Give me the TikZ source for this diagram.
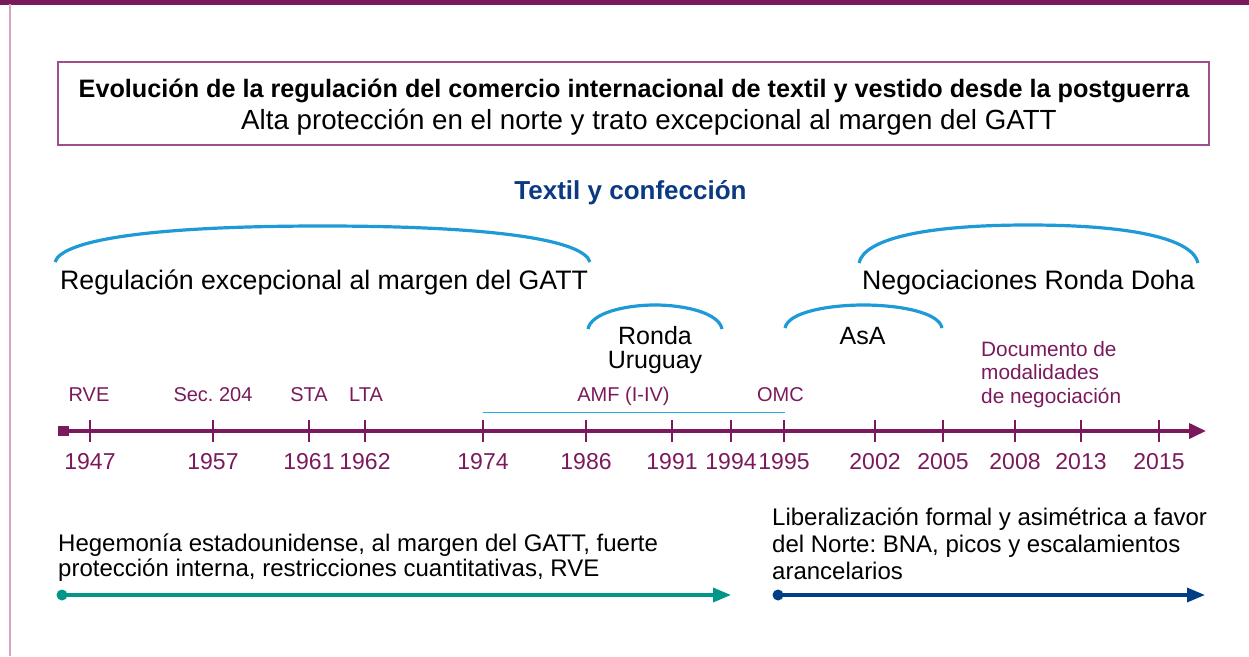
\documentclass[tikz,border=0pt]{standalone}
\usepackage{fontspec}
\setmainfont{Liberation Sans}
\usetikzlibrary{arrows.meta}
\definecolor{plum}{HTML}{7A1A5C}
\definecolor{boxline}{HTML}{9C4F8B}
\definecolor{edgepink}{HTML}{D7A3C5}
\definecolor{sky}{HTML}{1E9AD6}
\definecolor{skyl}{HTML}{2AAAE2}
\definecolor{navy}{HTML}{0B3A82}
\definecolor{tealc}{HTML}{00968A}
\definecolor{dblue}{HTML}{003E86}
\frenchspacing
\begin{document}
\begin{tikzpicture}[x=1pt,y=-1pt,
  hump/.style={draw=sky, line width=3.2pt},
  lbl/.style={text=plum, font=\fontsize{20}{23.5}\selectfont, inner sep=0, anchor=base},
  yr/.style={text=plum, font=\fontsize{23}{27}\selectfont, inner sep=0, anchor=base},
  big/.style={font=\fontsize{26.7}{30}\selectfont, inner sep=0, anchor=base west},
  mid/.style={font=\fontsize{25}{24}\selectfont, inner sep=0, anchor=base, align=center},
  tickmark/.style={draw=plum, line width=1.6pt},
  body/.style={font=\fontsize{24}{25}\selectfont, inner sep=0, align=left, anchor=base west},
  bodyb/.style={font=\fontsize{24}{27}\selectfont, inner sep=0, align=left, anchor=base west}
]
\useasboundingbox (0,0) rectangle (1249,656);
\fill[plum] (0,0) rectangle (1249,4.5);
\draw[edgepink, line width=1.8pt] (10,4) -- (10,656);

% title box
\node[draw=boxline, line width=1.8pt, minimum width=1151pt, minimum height=83pt, inner sep=0] (tbox) at (633.5,103.5) {};
\node[font=\bfseries\fontsize{25.2}{30}\selectfont, inner sep=0, anchor=base] (t1) at (634,97) {Evolución de la regulación del comercio internacional de textil y vestido desde la postguerra};
\node[font=\fontsize{27.7}{30}\selectfont, inner sep=0, anchor=base] (t2) at (649,129) {Alta protección en el norte y trato excepcional al margen del GATT};

\node[font=\bfseries\fontsize{26}{30}\selectfont, text=navy, inner sep=0, anchor=base] (tyc) at (630.5,199) {Textil y confección};

% humps
\draw[hump] (55,262) .. controls (62,240) and (150,226) .. (322.5,226) .. controls (495,226) and (583,240) .. (590,262);
\draw[hump] (859,263) .. controls (864,240) and (920,225) .. (1028.5,225) .. controls (1137,225) and (1193,240) .. (1198,263);
\draw[hump] (588,329) .. controls (591,313) and (625,305) .. (655,305) .. controls (685,305) and (719,313) .. (722,329);
\draw[hump] (785,328) .. controls (788,312) and (829,305) .. (863.5,305) .. controls (898,305) and (939,312) .. (942,328);

\node[big] (reg) at (60,289) {Regulación excepcional al margen del GATT};
\node[big] (doha) at (862,289) {Negociaciones Ronda Doha};
\node[mid] (ronda) at (655,368) {Ronda\\Uruguay};
\node[mid] (asa) at (862.5,344) {AsA};

% labels above axis
\node[lbl] (rve) at (89,401) {RVE};
\node[lbl] (sec) at (213,401) {Sec. 204};
\node[lbl] (sta) at (309,401) {STA};
\node[lbl] (lta) at (366,401) {LTA};
\node[lbl] (amf) at (623.5,401) {AMF (I-IV)};
\node[lbl] (omc) at (780.5,401) {OMC};
\node[lbl, font=\fontsize{20.8}{23.5}\selectfont, anchor=base west, align=left] (doc) at (981,403) {Documento de\\modalidades\\de negociación};

% AMF span
\coordinate (amfa) at (483,412.5);
\coordinate (amfb) at (785,412.5);
\draw[skyl, line width=1.7pt] (amfa) -- (amfb);

% axis
\node[fill=plum, minimum width=11pt, minimum height=10pt, inner sep=0] (start) at (63,431) {};
\coordinate (axend) at (1206,431);
\draw[plum, line width=3.8pt, -{Triangle[length=17pt,width=15pt]}] (start.center) -- (axend);
\foreach \x/\y in {90/1947, 213/1957, 309/1961, 365/1962, 483/1974, 586/1986, 672/1991, 731/1994, 784/1995, 875/2002, 943/2005, 1015/2008, 1081/2013, 1159/2015} {
  \coordinate (t\y) at (\x,431);
  \draw[tickmark] (\x,420) -- (\x,442);
  \node[yr] (y\y) at (\x,469) {\y};
}

% bottom
\node[body] (heg) at (58,576) {Hegemonía estadounidense, al margen del GATT, fuerte\\protección interna, restricciones cuantitativas, RVE};
\node[bodyb] (lib) at (772,579) {Liberalización formal y asimétrica a favor\\del Norte: BNA, picos y escalamientos\\arancelarios};

\node[circle, fill=tealc, minimum size=11pt, inner sep=0] (d1) at (62,595) {};
\coordinate (e1) at (731,595);
\draw[tealc, line width=3.4pt, -{Triangle[length=18pt,width=14pt]}] (d1.center) -- (e1);
\node[circle, fill=dblue, minimum size=11pt, inner sep=0] (d2) at (778,595) {};
\coordinate (e2) at (1205,595);
\draw[dblue, line width=3.4pt, -{Triangle[length=18pt,width=14pt]}] (d2.center) -- (e2);
\end{tikzpicture}
\end{document}
